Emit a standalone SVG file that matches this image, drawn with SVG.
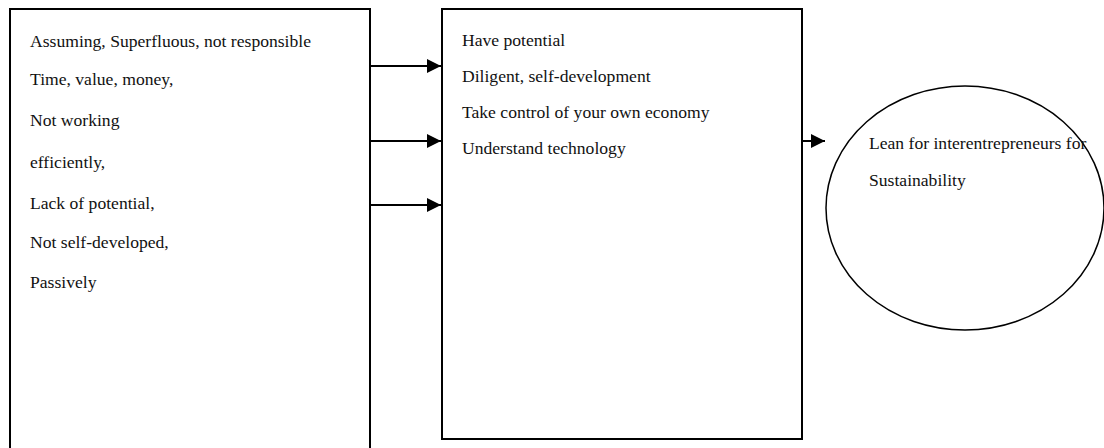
<svg xmlns="http://www.w3.org/2000/svg" width="1104" height="448" viewBox="0 0 1104 448">
<style>
.t{font-family:"Liberation Serif","Times New Roman",serif;font-size:17.6px;fill:#111}
.box{fill:#fff;stroke:#000;stroke-width:2}
.conn{stroke:#000;stroke-width:2;fill:none}
</style>
<defs>
<marker id="ah" markerWidth="16" markerHeight="16" refX="14" refY="7" orient="auto" markerUnits="userSpaceOnUse">
<path d="M0,0 L14,7 L0,14 Z" fill="#000"/>
</marker>
</defs>
<rect width="1104" height="448" fill="#fff"/>
<g id="left-box">
<path class="box" d="M10,450 V9 H370 V450"/>
<text class="t" x="30" y="47">Assuming, Superfluous, not responsible</text>
<text class="t" x="30" y="85">Time, value, money,</text>
<text class="t" x="30" y="126">Not working</text>
<text class="t" x="30" y="168">efficiently,</text>
<text class="t" x="30" y="209">Lack of potential,</text>
<text class="t" x="30" y="248">Not self-developed,</text>
<text class="t" x="30" y="288">Passively</text>
</g>
<g id="middle-box">
<rect class="box" x="442" y="9" width="360" height="430"/>
<text class="t" x="462" y="46">Have potential</text>
<text class="t" x="462" y="82">Diligent, self-development</text>
<text class="t" x="462" y="118">Take control of your own economy</text>
<text class="t" x="462" y="154">Understand technology</text>
</g>
<g id="goal">
<ellipse cx="965" cy="208" rx="139" ry="122" fill="none" stroke="#000" stroke-width="1.5"/>
<text class="t" x="869" y="149">Lean for interentrepreneurs for</text>
<text class="t" x="869" y="186">Sustainability</text>
</g>
<g id="connectors">
<line class="conn" x1="370" y1="66" x2="441" y2="66" marker-end="url(#ah)"/>
<line class="conn" x1="370" y1="141" x2="441" y2="141" marker-end="url(#ah)"/>
<line class="conn" x1="370" y1="205" x2="441" y2="205" marker-end="url(#ah)"/>
<line class="conn" x1="802" y1="141" x2="825" y2="141" marker-end="url(#ah)"/>
</g>
</svg>
